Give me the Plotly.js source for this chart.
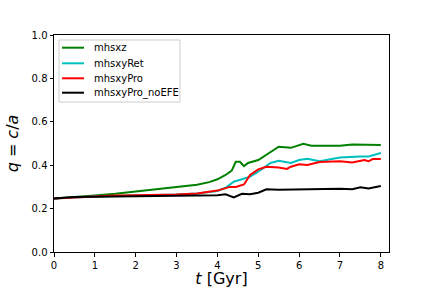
<!DOCTYPE html>
<html><head><meta charset="utf-8">
<script src="https://cdn.plot.ly/plotly-3.0.1.min.js"></script>
<style>body{margin:0;padding:0;}#plot{width:432px;height:288px;}</style>
</head><body><div id="plot"></div>
<script>
const tGreen = [0,0.5,1,1.5,2,2.5,3,3.5,3.8,4,4.2,4.35,4.45,4.55,4.65,4.75,5,5.2,5.35,5.5,5.8,6,6.1,6.3,6.6,7,7.3,7.6,8];
const qGreen = [0.247,0.252,0.26,0.268,0.278,0.288,0.3,0.31,0.322,0.335,0.355,0.375,0.416,0.416,0.396,0.41,0.424,0.447,0.468,0.485,0.48,0.493,0.499,0.49,0.49,0.49,0.495,0.493,0.493];
const tCyan = [0,0.5,1,1.5,2,2.5,3,3.5,4,4.2,4.4,4.6,4.8,5,5.3,5.5,5.8,6,6.2,6.5,7,7.5,7.7,8];
const qCyan = [0.247,0.252,0.256,0.258,0.26,0.262,0.265,0.27,0.281,0.296,0.324,0.335,0.347,0.37,0.41,0.42,0.41,0.424,0.43,0.418,0.435,0.44,0.44,0.456];
const tRed = [0,0.5,1,1.5,2,2.5,3,3.5,4,4.3,4.45,4.65,4.8,5,5.2,5.5,5.7,5.8,6,6.2,6.5,7,7.3,7.6,7.7,7.8,8];
const qRed = [0.247,0.252,0.258,0.26,0.262,0.263,0.265,0.27,0.283,0.3,0.3,0.311,0.355,0.381,0.393,0.389,0.383,0.393,0.404,0.401,0.415,0.418,0.413,0.424,0.418,0.428,0.428];
const tBlack = [0,0.5,1,1.5,2,2.5,3,3.5,4,4.2,4.4,4.6,4.8,5,5.2,5.5,6,6.5,7,7.3,7.5,7.7,8];
const qBlack = [0.247,0.253,0.255,0.256,0.258,0.258,0.26,0.262,0.262,0.266,0.252,0.268,0.266,0.273,0.289,0.287,0.289,0.29,0.292,0.289,0.298,0.293,0.304];
const names = ["mhsxz","mhsxyRet","mhsxyPro","mhsxyPro_noEFE"];
const colors = ["#008000","#00bfbf","#ff0000","#000000"];
const xs=[tGreen,tCyan,tRed,tBlack], ys=[qGreen,qCyan,qRed,qBlack];
const traces = names.map((n,i)=>({x:xs[i],y:ys[i],name:n,mode:'lines',line:{color:colors[i],width:2},showlegend:false}));

// manual legend (matplotlib style)
const shapes = [{type:'rect',xref:'paper',yref:'paper',x0:0.0149,x1:0.376,y0:0.691,y1:0.977,line:{color:'#cccccc',width:1},fillcolor:'rgba(255,255,255,0.8)',layer:'above'}];
const annotations = [];
const rowY = [0.9415,0.8696,0.8005,0.7341];
names.forEach((n,i)=>{
  shapes.push({type:'line',xref:'paper',yref:'paper',x0:0.0239,x1:0.0896,y0:rowY[i],y1:rowY[i],line:{color:colors[i],width:2},layer:'above'});
  annotations.push({xref:'paper',yref:'paper',x:0.1134,y:rowY[i],xanchor:'left',yanchor:'middle',text:n,showarrow:false,font:{size:10,color:'#000'}});
});

const layout = {
  width:432,height:288,
  margin:{l:54,r:43,t:35,b:36},
  paper_bgcolor:'white',plot_bgcolor:'white',
  font:{family:'DejaVu Sans',size:10,color:'#000'},
  showlegend:false,
  shapes:shapes, annotations:annotations,
  xaxis:{range:[-0.0,8.2],tickvals:[0,1,2,3,4,5,6,7,8],ticktext:['0','1','2','3','4','5','6','7','8'],showgrid:false,zeroline:false,showline:true,mirror:true,linecolor:'#000',linewidth:1,ticks:'outside',ticklen:3.5,tickcolor:'#000',
    title:{text:'<i>t</i> [Gyr]',font:{size:16},standoff:4}},
  yaxis:{range:[0,1],tickvals:[0,0.2,0.4,0.6,0.8,1.0],ticktext:['0.0','0.2','0.4','0.6','0.8','1.0'],showgrid:false,zeroline:false,showline:true,mirror:true,linecolor:'#000',linewidth:1,ticks:'outside',ticklen:3.5,tickcolor:'#000',
    title:{text:'<i>q</i> = <i>c</i>/<i>a</i>',font:{size:16},standoff:8}}
};
Plotly.newPlot('plot',traces,layout,{displayModeBar:false,staticPlot:true});
</script></body></html>
